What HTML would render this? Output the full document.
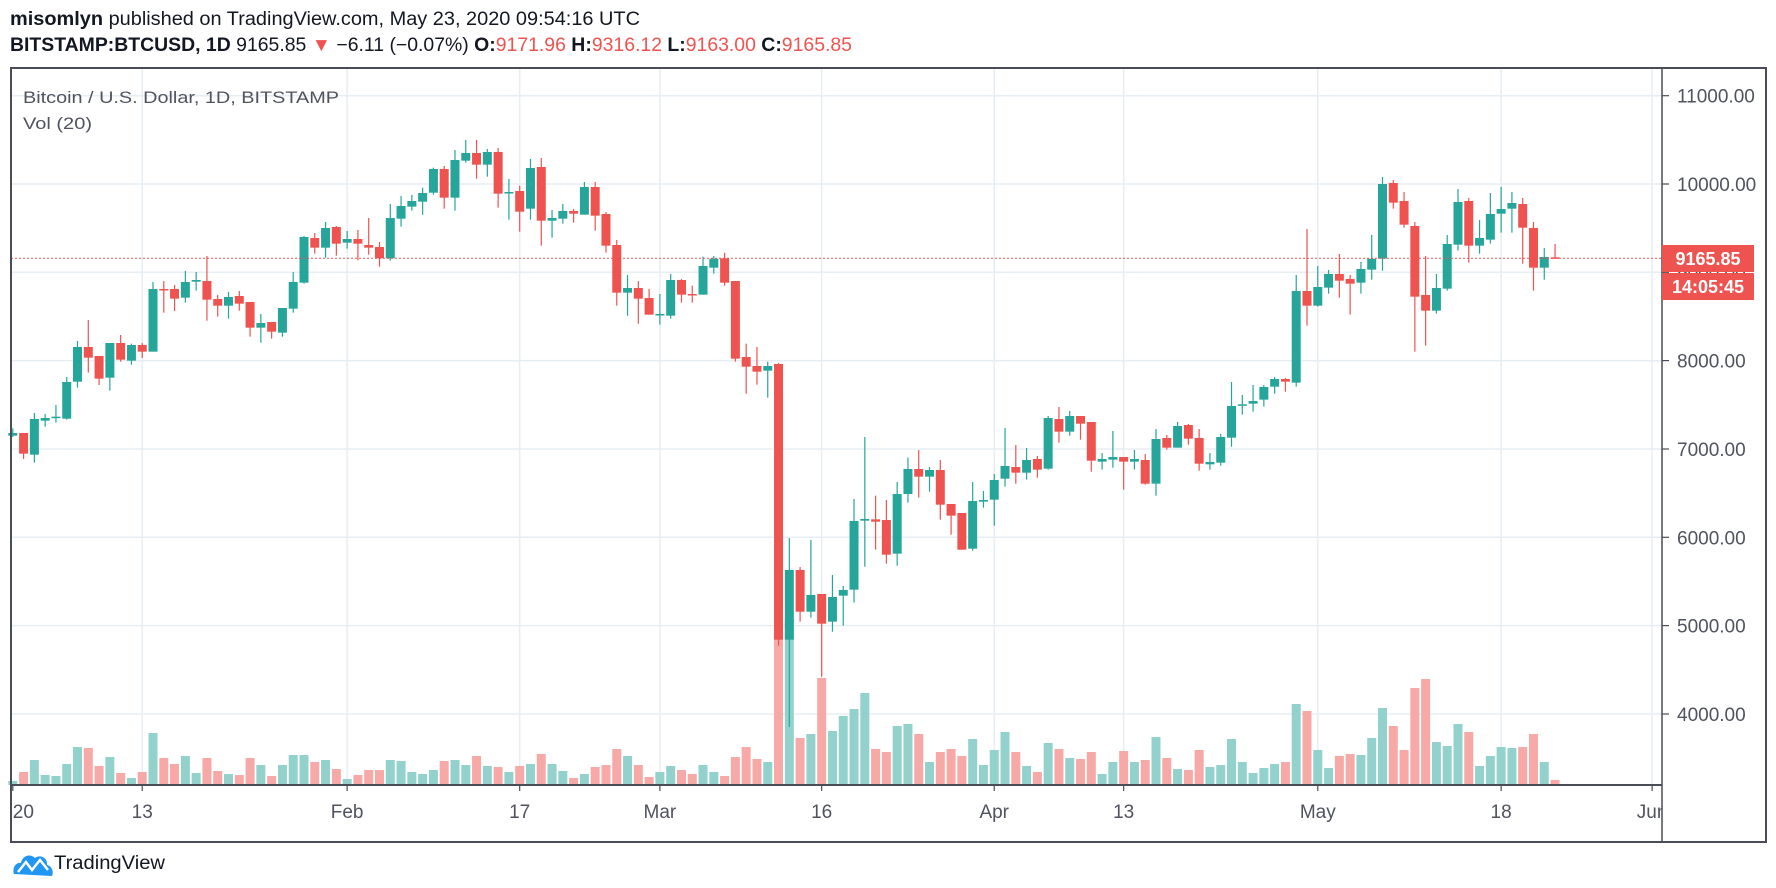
<!DOCTYPE html>
<html><head><meta charset="utf-8">
<style>
html,body{margin:0;padding:0;background:#fff;}
svg{display:block;font-family:"Liberation Sans",sans-serif;}
</style></head>
<body>
<svg id="s" width="1776" height="888" viewBox="0 0 1776 888" xmlns="http://www.w3.org/2000/svg">
<rect width="1776" height="888" fill="#fff"/>
<g id="grid"></g>
<g id="vol"></g>
<g id="cnd"></g>
<line x1="11" y1="258.3" x2="1662" y2="258.3" stroke="#ef5350" stroke-width="1" stroke-dasharray="2,2"/>
<g id="axis"></g>
<!-- header -->
<text x="10" y="25" font-size="19" fill="#131722" textLength="630" lengthAdjust="spacingAndGlyphs"><tspan font-weight="bold">misomlyn</tspan> published on TradingView.com, May 23, 2020 09:54:16 UTC</text>
<text x="10" y="51" font-size="19" fill="#131722" textLength="842" lengthAdjust="spacingAndGlyphs"><tspan font-weight="bold">BITSTAMP:BTCUSD, 1D</tspan> 9165.85 <tspan fill="#ef5350">▼</tspan> −6.11 (−0.07%) <tspan font-weight="bold">O:</tspan><tspan fill="#ef5350">9171.96</tspan> <tspan font-weight="bold">H:</tspan><tspan fill="#ef5350">9316.12</tspan> <tspan font-weight="bold">L:</tspan><tspan fill="#ef5350">9163.00</tspan> <tspan font-weight="bold">C:</tspan><tspan fill="#ef5350">9165.85</tspan></text>
<text x="23" y="103" font-size="17" fill="#50535e" textLength="316" lengthAdjust="spacingAndGlyphs">Bitcoin / U.S. Dollar, 1D, BITSTAMP</text>
<text x="23" y="129" font-size="17" fill="#50535e" textLength="69" lengthAdjust="spacingAndGlyphs">Vol (20)</text>
<!-- frame -->
<rect x="11" y="68" width="1755" height="774" fill="none" stroke="#4a4d57" stroke-width="2"/>
<line x1="1662" y1="68" x2="1662" y2="842" stroke="#4a4d57" stroke-width="1.5"/>
<line x1="11" y1="785" x2="1662" y2="785" stroke="#4a4d57" stroke-width="2"/>
<!-- price label -->
<rect x="1662" y="245" width="92" height="27" fill="#ef5350"/>
<text x="1708" y="265" font-size="18" fill="#fff" text-anchor="middle" font-weight="bold">9165.85</text>
<rect x="1662" y="273" width="92" height="27" fill="#ef5350"/>
<text x="1708" y="293" font-size="18" fill="#fff" text-anchor="middle" font-weight="bold">14:05:45</text>
<!-- logo -->
<g transform="translate(12,848)">
<path d="M2 26 C0 20 4 14 9 15 C10 8 18 5 23 10 C28 6 36 10 35 17 C40 18 42 24 40 28 Z" fill="#2196f3"/>
<path d="M6 24 L14 14 L20 22 L28 12 L36 22" stroke="#fff" stroke-width="2.5" fill="none"/>
</g>
<text x="54" y="869" font-size="19" fill="#131722" textLength="111" lengthAdjust="spacingAndGlyphs">TradingView</text>
</svg>
<script>
const NS="http://www.w3.org/2000/svg";
function el(p,t,a,txt){const e=document.createElementNS(NS,t);for(const k in a)e.setAttribute(k,a[k]);if(txt!==undefined)e.textContent=txt;p.appendChild(e);return e;}
const G="#26a69a",R="#ef5350";
const regions=[
[130,`g 909 917 895 921|r 909 971 909 987|g 867 974 849 998|g 864 872 852 890|g 860 864 825 878|g 756 866 741 869|g 651 755 633 773|r 651 683 570 728|r 678 746 678 765|g 639 743 639 782|r 639 689 615 695|g 645 692 641 704|r 645 665 639 684|g 477 665 456 665|r 477 480 453 548|r 477 506 465 543|g 456 503 423 518|g 450 455 426 482|r 453 509 378 572|r 507 527 495 560|g 501 527 486 566|r 498 521 483 542|r 516 593 516 620|g 579 593 552 638|r 576 605 576 626|g 534 608 534 620|g 456 536 426 548|g 321 458 318 461|r 324 353 309 371|g 294 353 276 383|r 291 341 288 377|g 327 338 303 356|r 327 341 300 391|r 345 353 264 374|r 351 385 336 410|g 264 385 222 392|g 228 266 198 290`],
[130,`g 213 230 195 242|g 189 215 173 254|g 117 188 113 194|r 117 203 108 236|g 90 203 60 242|g 69 92 30 98|r 69 104 30 146|g 66 104 57 140|r 66 191 54 233|g 186 188 147 269|r 183 245 167 305|g 114 236 87 269|r 111 272 84 347|g 264 272 240 323|g 243 266 222 281|r 243 251 237 278|g 171 254 156 254|r 171 257 156 302|r 252 347 246 368|r 345 488 330 527|g 474 488 435 557|r 474 506 453 581|r 504 554 477 554|g 552 554 492 584|g 450 557 432 566|r 450 494 447 518|r 492 494 467 518|g 408 494 380 494|g 386 413 378 431|r 385 458 368 467|r 453 686 453 695|r 681 710 641 791|r 708 725 651 764|g 708 722 695 803`],
[200,`r 492 1319 489 1337|g 1110 1319 1014 1581|r 1110 1235 1101 1265|g 1185 1235 1020 1253|r 1182 1271 1182 1430|g 1191 1265 1125 1295|g 1170 1187 1158 1277|g 963 1169 897 1208|g 957 962 711 1100|r 958 965 887 1049|r 960 1064 900 1091|g 882 1061 846 1097|g 807 882 773 908|r 807 830 750 893|g 810 830 801 875|r 810 914 780 959|r 912 947 912 1004|r 939 1049 939 1049|g 903 1046 846 1052|g 900 905 873 923|g 840 899 822 977|g 798 836 684 860|r 801 818 735 851|g 780 818 744 839|r 777 809 768 833|g 654 806 648 809|r 657 695 621 728|g 648 695 633 707|r 648 671 648 719|r 666 782 666 815|g 777 785 759 809|g 771 779 693 803|r 771 785 771 869|g 777 785 750 809|r 780 851 762 854|g 717 851 687 887|r 714 743 705 749`],
[160,`g 798 863 786 863|r 795 836 792 854|r 834 911 807 932|g 906 913 879 929|g 831 908 822 917|g 738 833 666 860|g 733 737 705 764|g 723 731 675 755|g 681 719 675 740|g 657 680 651 701|r 657 665 654 695|g 393 668 345 680|r 393 437 207 497|g 381 437 318 440|g 342 383 330 401|r 342 362 282 413|r 357 371 345 464|g 327 368 306 401|g 296 329 225 359|g 72 296 51 332|r 69 128 60 146|r 123 194 96 203|r 198 410 186 575|r 405 452 288 557|g 384 452 342 461|g 252 386 225 392|g 126 254 87 272|r 123 257 114 308|g 234 257 180 281|g 162 239 99 251|g 147 161 81 218|g 129 146 96 218|r 132 203 114 311|r 204 323 186 392|g 291 323 264 359|r 292 295 252 296`]];
const candles=[];
regions.forEach(([oy,s])=>s.split("|").forEach(c=>{const p=c.trim().split(/\s+/);candles.push({c:p[0]=="g"?G:R,bt:oy+p[1]/3,bb:oy+p[2]/3,wt:oy+p[3]/3,wb:oy+p[4]/3});}));
const X=i=>12.8+i*10.785;
// grid
const grid=document.getElementById("grid");
const prices=[[11000,95.7],[10000,184],[9000,272.3],[8000,360.6],[7000,449],[6000,537.3],[5000,625.6],[4000,714]];
prices.forEach(([p,y])=>el(grid,"line",{x1:11,x2:1662,y1:y,y2:y,stroke:"#e6eef4","stroke-width":1.5}));
const times=[["2020",0],["13",12],["Feb",31],["17",47],["Mar",60],["16",75],["Apr",91],["13",103],["May",121],["18",138],["Jun",152]];
times.forEach(([t,i])=>{const x=X(i);if(i>0)el(grid,"line",{x1:x,x2:x,y1:68,y2:785,stroke:"#e6eef4","stroke-width":1.5});});
// volume
const vstr="12 303,21 276,30 240,39 285,49 288,59 252,68 201,77 204,87 258,97 231,106 279,116 294,125 276,135 159,144 234,154 252,163 228,173 279,182 234,192 273,201 282,211 285,220 234,230 255,240 288,249 255,259 225,268 225,278 246,287 240,297 267,306 297,316 285,325 270,335 270,344 240,354 243,363 276,373 282,382 270,392 243,401 240,411 255,420 228,430 258,439 261,449 276,458 258,468 252,477 222,487 252,496 273,506 294,515 282,525 261,534 255,544 207,553 228,563 255,572 291,582 276,591 258,601 270,610 282,620 255,629 276,639 288,648 231,658 201,667 237,677 246,687 -219,696 -183,706 174,715 162,725 -6,734 153,744 108,753 87,763 39,772 207,782 216,791 138,801 132,810 162,820 246,829 216,839 207,848 228,858 177,867 255,877 210,886 156,896 216,905 258,915 276,924 189,934 207,943 234,953 237,962 216,972 282,981 246,991 213,1000 246,1010 240,1019 171,1029 234,1038 267,1048 270,1057 210,1067 261,1076 255,1086 177,1095 246,1105 279,1114 264,1124 252,1133 246,1143 72,1152 93,1162 210,1171 264,1181 228,1190 222,1200 225,1209 174,1219 84,1228 138,1238 210,1247 24,1257 -3,1266 186,1276 198,1285 132,1295 156,1304 258,1314 228,1323 201,1333 204,1342 201,1352 162,1362 246,1371 300";
const vol=document.getElementById("vol");
vstr.split(",").forEach(s=>{const [zx,t]=s.split(" ").map(Number);const i=Math.round((zx-11.2)/9.52);if(i<0||i>=candles.length)return;const top=680+t/3;
 const col=candles[i].c==G?"#93d2cc":"#f7a9a7";el(vol,"rect",{x:X(i)-4.5,y:top,width:9,height:785-top,fill:col});});
// candles
const cg=document.getElementById("cnd");
candles.forEach((c,i)=>{const x=X(i);el(cg,"rect",{x:x-0.6,y:c.wt,width:1.2,height:Math.max(1,c.wb-c.wt),fill:c.c});
 el(cg,"rect",{x:x-4.5,y:c.bt,width:9,height:Math.max(1.5,c.bb-c.bt),fill:c.c});});
// axis labels
const ax=document.getElementById("axis");
prices.forEach(([p,y])=>{el(ax,"line",{x1:1662,x2:1669,y1:y,y2:y,stroke:"#4a4d57","stroke-width":1.2});
 el(ax,"text",{x:1677,y:y+7,"font-size":19,fill:"#50535e"},p.toFixed(2));});
const clip=el(ax,"clipPath",{id:"tc"});el(clip,"rect",{x:12,y:786,width:1650,height:55});
const tg=el(ax,"g",{"clip-path":"url(#tc)"});
times.forEach(([t,i])=>{const x=X(i);el(tg,"line",{x1:x,x2:x,y1:785,y2:791,stroke:"#4a4d57","stroke-width":1.2});
 el(tg,"text",{x:x,y:818,"font-size":19,fill:"#50535e","text-anchor":"middle"},t);});
</script>
</body></html>
